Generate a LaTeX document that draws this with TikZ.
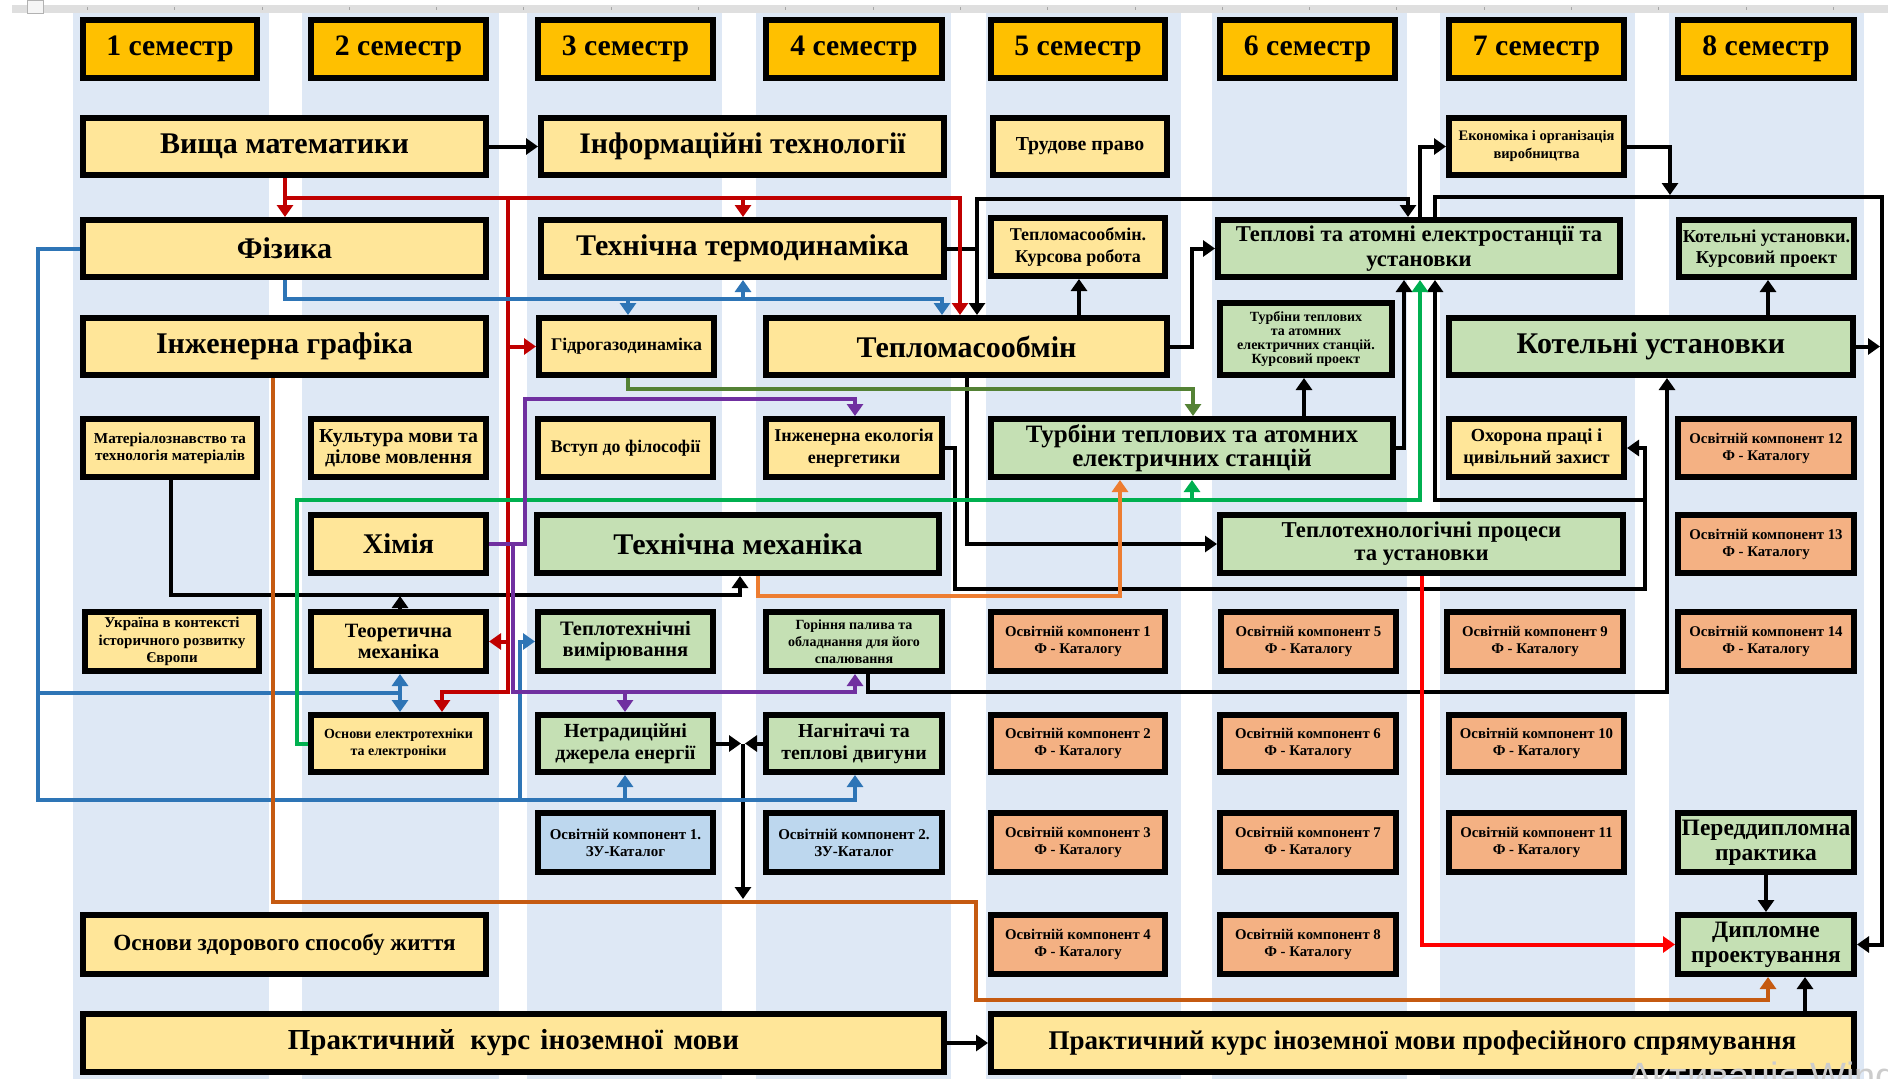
\documentclass[tikz,border=0pt]{standalone}
\usepackage{fontspec}
\setmainfont{Liberation Serif}
\newfontfamily\wmfont{Liberation Sans}
\usetikzlibrary{arrows.meta}
\definecolor{colbg}{HTML}{DEE8F5}
\definecolor{hdr}{HTML}{FFC000}
\definecolor{yel}{HTML}{FFE699}
\definecolor{grn}{HTML}{C5E0B4}
\definecolor{org}{HTML}{F4B183}
\definecolor{blu}{HTML}{BDD7EE}
\definecolor{cRed}{HTML}{C00000}
\definecolor{cBlue}{HTML}{2E75B6}
\definecolor{cBrown}{HTML}{C55A11}
\definecolor{cGreen}{HTML}{00B050}
\definecolor{cOlive}{HTML}{548235}
\definecolor{cPurple}{HTML}{7030A0}
\definecolor{cOrange}{HTML}{ED7D31}
\definecolor{cBright}{HTML}{FF0000}
\newcommand\fsz[2]{\bfseries\fontsize{#1}{#2}\selectfont}
\newcommand\bx[7]{%
 \pgfmathsetmacro\bxw{#4-#2-6}%
 \pgfmathsetmacro\bxh{#5-#3-6}%
 \node[box,#6,minimum width=\bxw pt,minimum height=\bxh pt] (#1) at ({(#2+#4)/2},{(#3+#5)/2}) {#7};}
\tikzset{
 box/.style={draw=black, line width=6pt, inner sep=1pt, align=center, text=black},
 hd/.style={fill=hdr, font=\fsz{29.7}{31}},
 yb/.style={fill=yel}, gb/.style={fill=grn}, ob/.style={fill=org, font=\fsz{14.8}{17}}, bb/.style={fill=blu, font=\fsz{15}{17}},
 ln/.style={line width=4pt},
}
\begin{document}
\begin{tikzpicture}[x=1pt,y=-1pt,>={Triangle[length=12pt,width=16pt]}]
\useasboundingbox (0,0) rectangle (1888,1079);
\fill[white] (0,0) rectangle (1888,1079);
% column backgrounds
\foreach \a/\b in {73/269,302/499,527/722,756/951,986/1181,1212/1407,1440/1635,1669/1864}
  \fill[colbg] (\a,13) rectangle (\b,1079);
% ruler
\fill[gray!25] (12,5) rectangle (1888,13);
\foreach \i in {1,...,21} \draw[gray!70, line width=0.8pt] ({87.3*\i},7) -- ({87.3*\i},10);
\draw[gray!60, fill=gray!8, line width=0.8pt] (27,0) rectangle (43,13);

% headers
\bx{h1}{80}{17}{260}{81}{hd}{1 семестр}
\bx{h2}{308}{17}{489}{81}{hd}{2 семестр}
\bx{h3}{535}{17}{716}{81}{hd}{3 семестр}
\bx{h4}{763}{17}{945}{81}{hd}{4 семестр}
\bx{h5}{988}{17}{1168}{81}{hd}{5 семестр}
\bx{h6}{1217}{17}{1398}{81}{hd}{6 семестр}
\bx{h7}{1446}{17}{1627}{81}{hd}{7 семестр}
\bx{h8}{1675}{17}{1857}{81}{hd}{8 семестр}

% row 1
\bx{vm}{80}{115}{489}{178}{yb,font=\fsz{30}{31}}{Вища математики}
\bx{it}{538}{115}{947}{178}{yb,font=\fsz{29.8}{31}}{Інформаційні технології}
\bx{tp}{990}{115}{1170}{178}{yb,font=\fsz{19.8}{20}}{Трудове право}
\bx{eko}{1446}{115}{1627}{178}{yb,font=\fsz{14.5}{18}}{Економіка і організація\\виробництва}
% row 2
\bx{fiz}{80}{217}{489}{280}{yb,font=\fsz{30}{31}}{Фізика}
\bx{tt}{538}{217}{947}{280}{yb,font=\fsz{30}{31}}{Технічна термодинаміка}
\bx{tmok}{988}{215}{1168}{279}{yb,font=\fsz{18}{22}}{Тепломасообмін.\\Курсова робота}
\bx{tae}{1215}{217}{1623}{280}{gb,font=\fsz{22.6}{25}}{Теплові та атомні електростанції та\\установки}
\bx{kuk}{1676}{217}{1857}{280}{gb,font=\fsz{18.2}{21}}{Котельні установки.\\Курсовий проект}
% row 3
\bx{ig}{80}{315}{489}{378}{yb,font=\fsz{30}{31}}{Інженерна графіка}
\bx{ggd}{536}{315}{717}{378}{yb,font=\fsz{17.8}{20}}{Гідрогазодинаміка}
\bx{tmo}{763}{315}{1170}{378}{yb,font=\fsz{30}{31}}{Тепломасообмін}
\bx{tkp}{1217}{300}{1395}{378}{gb,font=\fsz{14}{13.8}}{Турбіни теплових\\та атомних\\електричних станцій.\\Курсовий проект}
\bx{ku}{1446}{315}{1856}{378}{gb,font=\fsz{30}{31}}{Котельні установки}
% row 4
\bx{mat}{80}{416}{260}{480}{yb,font=\fsz{15.2}{17}}{Матеріалознавство та\\технологія матеріалів}
\bx{kul}{308}{416}{489}{480}{yb,font=\fsz{19.8}{21}}{Культура мови та\\ділове мовлення}
\bx{vst}{535}{416}{716}{480}{yb,font=\fsz{17.8}{20}}{Вступ до філософії}
\bx{ie}{763}{416}{945}{480}{yb,font=\fsz{18}{22}}{Інженерна екологія\\енергетики}
\bx{tae2}{988}{416}{1396}{480}{gb,font=\fsz{25}{22}}{Турбіни теплових та атомних\\електричних станцій}
\bx{op}{1446}{416}{1627}{480}{yb,font=\fsz{18.4}{22}}{Охорона праці і\\цивільний захист}
\bx{ok12}{1675}{416}{1857}{480}{ob}{Освітній компонент 12\\Ф - Каталогу}
% row 5
\bx{khim}{308}{512}{489}{576}{yb,font=\fsz{28.5}{30}}{Хімія}
\bx{tm}{534}{512}{942}{576}{gb,font=\fsz{30}{30}}{Технічна механіка}
\bx{ttp}{1217}{512}{1626}{576}{gb,font=\fsz{22.7}{23}}{Теплотехнологічні процеси\\та установки}
\bx{ok13}{1675}{512}{1857}{576}{ob}{Освітній компонент 13\\Ф - Каталогу}
% row 6
\bx{ukr}{82}{609}{262}{674}{yb,font=\fsz{15}{17.5}}{Україна в контексті\\історичного розвитку\\Європи}
\bx{teor}{308}{609}{489}{674}{yb,font=\fsz{20.3}{21}}{Теоретична\\механіка}
\bx{tv}{535}{609}{716}{674}{gb,font=\fsz{20.5}{21}}{Теплотехнічні\\вимірювання}
\bx{gp}{763}{609}{945}{674}{gb,font=\fsz{14}{17}}{Горіння палива та\\обладнання для його\\спалювання}
\bx{ok1}{988}{609}{1168}{674}{ob}{Освітній компонент 1\\Ф - Каталогу}
\bx{ok5}{1218}{609}{1399}{674}{ob}{Освітній компонент 5\\Ф - Каталогу}
\bx{ok9}{1444}{609}{1626}{674}{ob}{Освітній компонент 9\\Ф - Каталогу}
\bx{ok14}{1675}{609}{1857}{674}{ob}{Освітній компонент 14\\Ф - Каталогу}
% row 7
\bx{oe}{308}{712}{489}{775}{yb,font=\fsz{14}{16.5}}{Основи електротехніки\\та електроніки}
\bx{nd}{535}{712}{716}{775}{gb,font=\fsz{20}{22}}{Нетрадиційні\\джерела енергії}
\bx{ng}{763}{712}{945}{775}{gb,font=\fsz{19.8}{22}}{Нагнітачі та\\теплові двигуни}
\bx{ok2}{988}{712}{1168}{775}{ob}{Освітній компонент 2\\Ф - Каталогу}
\bx{ok6}{1217}{712}{1399}{775}{ob}{Освітній компонент 6\\Ф - Каталогу}
\bx{ok10}{1446}{712}{1627}{775}{ob}{Освітній компонент 10\\Ф - Каталогу}
% row 8
\bx{zu1}{535}{810}{716}{875}{bb}{Освітній компонент 1.\\ЗУ-Каталог}
\bx{zu2}{763}{810}{945}{875}{bb}{Освітній компонент 2.\\ЗУ-Каталог}
\bx{ok3}{988}{810}{1168}{875}{ob}{Освітній компонент 3\\Ф - Каталогу}
\bx{ok7}{1217}{810}{1399}{875}{ob}{Освітній компонент 7\\Ф - Каталогу}
\bx{ok11}{1446}{810}{1627}{875}{ob}{Освітній компонент 11\\Ф - Каталогу}
\bx{pd}{1675}{810}{1857}{875}{gb,font=\fsz{23.5}{25}}{Переддипломна\\практика}
% row 9
\bx{ozs}{80}{912}{489}{977}{yb,font=\fsz{23.2}{24}}{Основи здорового способу життя}
\bx{ok4}{988}{912}{1168}{977}{ob}{Освітній компонент 4\\Ф - Каталогу}
\bx{ok8}{1217}{912}{1399}{977}{ob}{Освітній компонент 8\\Ф - Каталогу}
\bx{dp}{1675}{912}{1857}{977}{gb,font=\fsz{23.5}{25}}{Дипломне\\проектування}
% row 10
\bx{pk}{80}{1011}{947}{1075}{yb,font=\fsz{29}{30}}{Практичний\hspace{8pt} курс\hspace{3pt} іноземної\hspace{3pt} мови}
\bx{pkp}{988}{1011}{1857}{1075}{yb,font=\fsz{27}{29}}{Практичний курс іноземної мови професійного спрямування}

% ---- black connectors
\draw[ln,->] (vm.east) -- (it.west);
\draw[ln] (tt.east) -- (977,0 |- tt.east);
\draw[ln,<->] (977,0 |- tmo.north) -- (977,199) -- (1408,199) -- (1408,0 |- tae.north);
\draw[ln,->] (1079,0 |- tmo.north) -- (1079,0 |- tmok.south);
\draw[ln,->] (tmo.east) -- (1192,0 |- tmo.east) |- (tae.west);
\draw[ln,->] (967,0 |- tmo.south) |- (ttp.west);
\draw[ln,->] (1304,0 |- tae2.north) -- (1304,0 |- tkp.south);
\draw[ln,->] (tae2.east) -| (1404,0 |- tae.south);
\draw[ln,->] (1420,0 |- tae.north) |- (eko.west);
\draw[ln,->] (1435,0 |- tae.north) -- (1435,197) -| (1882,0 |- dp.east) -- (dp.east);
\draw[ln,->] (eko.east) -| (1670,195);
\draw[ln,->] (1768,0 |- ku.north) -- (1768,0 |- kuk.south);
\draw[ln,->] (ku.east) -- (1880,0 |- ku.east);
\draw[ln,->] (ie.east) -| (955,589) -| (1645,0 |- op.east) -- (op.east);
\draw[ln,->] (1645,500) -| (1435,0 |- tae.south);
\draw[ln,->] (868,0 |- gp.south) |- (1667,692) -- (1667,0 |- ku.south);
\draw[ln,->] (171,0 |- mat.south) |- (740,595) -- (740,0 |- tm.south);
\draw[ln,->] (400,0 |- teor.north) -- (400,596);
\draw[ln,->] (nd.east) -- (741,0 |- nd.east);
\draw[ln,->] (ng.west) -- (745,0 |- ng.west);
\draw[ln,->] (743,0 |- nd.east) -- (743,899);
\draw[ln,->] (pk.east) -- (pkp.west);
\draw[ln,->] (1805,0 |- pkp.north) -- (1805,0 |- dp.south);
\draw[ln,->] (pd.south) -- (dp.north);
% ---- dark red
\draw[ln,cRed,->] (285,0 |- vm.south) -- (285,0 |- fiz.north);
\draw[ln,cRed,->] (285,198) -| (960,0 |- tmo.north);
\draw[ln,cRed,->] (743,198) -- (743,0 |- tt.north);
\draw[ln,cRed,->] (508,198) -- (508,692) -| (442,0 |- oe.north);
\draw[ln,cRed,->] (508,0 |- ggd.west) -- (ggd.west);
\draw[ln,cRed,->] (508,0 |- teor.east) -- (teor.east);
% ---- blue
\draw[ln,cBlue,->] (285,0 |- fiz.south) |- (942,299) -- (942,0 |- tmo.north);
\draw[ln,cBlue,->] (628,299) -- (628,0 |- ggd.north);
\draw[ln,cBlue,->] (743,299) -- (743,0 |- tt.south);
\draw[ln,cBlue,->] (fiz.west) -| (38,800) -| (855,0 |- ng.south);
\draw[ln,cBlue,->] (625,800) -- (625,0 |- nd.south);
\draw[ln,cBlue] (38,693) -- (400,693);
\draw[ln,cBlue,<->] (400,0 |- teor.south) -- (400,0 |- oe.north);
\draw[ln,cBlue,->] (520,800) |- (tv.west);
% ---- brown
\draw[line width=3.5pt,cBrown,->] (273,0 |- ig.south) |- (976,902) |- (1768,1000) -- (1768,0 |- dp.south);
% ---- green
\draw[ln,cGreen,->] (oe.west) -| (297,500) -| (1420,0 |- tae.south);
\draw[ln,cGreen,->] (1192,500) -- (1192,0 |- tae2.south);
% ---- olive
\draw[ln,cOlive,->] (628,0 |- ggd.south) |- (1193,389) -- (1193,0 |- tae2.north);
% ---- purple
\draw[ln,cPurple,->] (khim.east) -| (525,399) -| (855,0 |- ie.north);
\draw[ln,cPurple,->] (513,0 |- khim.east) |- (855,692) -- (855,0 |- gp.south);
\draw[ln,cPurple,->] (625,692) -- (625,0 |- nd.north);
% ---- orange
\draw[ln,cOrange,->] (758,0 |- tm.south) |- (1120,596) -- (1120,0 |- tae2.south);
% ---- bright red
\draw[ln,cBright,->] (1422,0 |- ttp.south) |- (dp.west);

% watermark
\node[anchor=base west, text=gray!40, font=\wmfont\fontsize{38}{38}\selectfont, inner sep=0pt] (wm) at (1627,1089) {Активація Windows};
\end{tikzpicture}
\end{document}
